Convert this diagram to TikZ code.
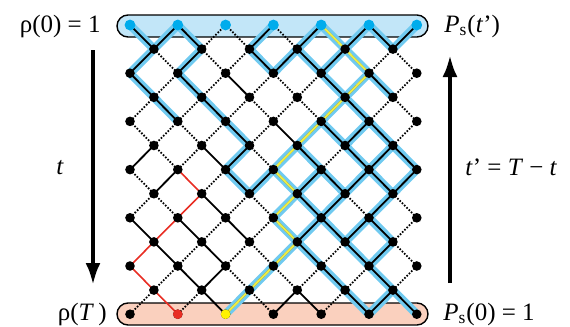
\documentclass[tikz,border=0pt]{standalone}
\usepackage{fontspec}
\setmainfont{Liberation Serif}
\usepackage{xcolor}
\usetikzlibrary{arrows.meta}
\definecolor{boxblue}{RGB}{194,230,248}
\definecolor{boxpeach}{RGB}{250,208,190}
\definecolor{glow}{RGB}{112,202,240}
\definecolor{sitecyan}{RGB}{0,172,236}
\definecolor{pathred}{RGB}{232,45,35}
\definecolor{pathyellow}{RGB}{236,236,70}
\tikzset{
site/.style={circle,fill=black,inner sep=0pt,minimum size=4.8pt},
openbond/.style={line width=0.9pt},
shutbond/.style={line width=0.9pt,dash pattern=on 0.8pt off 0.8pt},
glowbond/.style={line width=4.2pt,glow,line cap=round,line join=round},
redbond/.style={line width=0.8pt,pathred},
yelbond/.style={line width=1.1pt,pathyellow},
timearrow/.style={line width=2pt,-{Latex[length=11pt,width=7.5pt]}},
txt/.style={font=\fontsize{12.5}{15}\selectfont,inner sep=0pt}
}
\begin{document}
\begin{tikzpicture}[x=0.5pt,y=-0.5pt]
\useasboundingbox (0,0) rectangle (570,327);
%lattice points
\foreach \r in {0,...,12}
\foreach \c in {0,...,12}
\coordinate (v-\c-\r) at ({130+23.9*\c},{25+24.1*\r});
%the two boxes
\draw[fill=boxblue,line width=0.7pt,rounded corners=5.5pt](117,15)rectangle(428,37);
\draw[fill=boxpeach,line width=0.7pt,rounded corners=5.5pt](117,303)rectangle(428,325);
%cyan cluster
\foreach \c/\r/\d in {0/0/1,2/0/-1,2/0/1,6/0/-1,8/0/-1,10/0/-1,10/0/1,12/0/-1,
1/1/-1,3/1/-1,5/1/1,7/1/-1,7/1/1,9/1/-1,
0/2/1,2/2/1,8/2/1,10/2/1,
1/3/1,3/3/1,9/3/1,
4/4/1,8/4/1,10/4/-1,10/4/1,
5/5/-1,7/5/1,9/5/1,11/5/-1,11/5/1,
4/6/1,6/6/-1,8/6/-1,8/6/1,10/6/-1,10/6/1,12/6/-1,
7/7/1,9/7/-1,11/7/-1,
8/8/-1,8/8/1,10/8/-1,10/8/1,
7/9/1,9/9/1,11/9/-1,
8/10/1,10/10/1,
9/11/1,11/11/-1,11/11/1}{
\pgfmathtruncatemacro{\cc}{\c+\d}
\pgfmathtruncatemacro{\rr}{\r+1}
\draw[glowbond](v-\c-\r)--(v-\cc-\rr);
\draw[openbond](v-\c-\r)--(v-\cc-\rr);
}
%yellow path
\foreach \c/\r/\d in {8/0/1,9/1/1,10/2/-1,9/3/-1,8/4/-1,7/5/-1,6/6/1,7/7/-1,6/8/1,7/9/-1,6/10/-1,5/11/-1}{
\pgfmathtruncatemacro{\cc}{\c+\d}
\pgfmathtruncatemacro{\rr}{\r+1}
\draw[glowbond](v-\c-\r)--(v-\cc-\rr);
\draw[openbond](v-\c-\r)--(v-\cc-\rr);
\draw[yelbond](v-\c-\r)--(v-\cc-\rr);
}
%other open bonds
\foreach \c/\r/\d in {4/2/1,6/4/1,1/5/-1,3/5/1,2/6/-1,3/7/1,0/8/1,2/8/1,4/8/1,
1/9/1,3/9/1,2/10/1,4/10/-1,3/11/1,7/11/-1,7/11/1}{
\pgfmathtruncatemacro{\cc}{\c+\d}
\pgfmathtruncatemacro{\rr}{\r+1}
\draw[openbond](v-\c-\r)--(v-\cc-\rr);
}
%red path
\foreach \c/\r/\d in {2/6/1,3/7/-1,2/8/-1,1/9/-1,0/10/1,1/11/1}{
\pgfmathtruncatemacro{\cc}{\c+\d}
\pgfmathtruncatemacro{\rr}{\r+1}
\draw[redbond](v-\c-\r)--(v-\cc-\rr);
}
%closed bonds
\foreach \c/\r/\d in {4/0/-1,4/0/1,6/0/1,
1/1/1,3/1/1,5/1/-1,11/1/-1,11/1/1,
2/2/-1,4/2/-1,6/2/-1,6/2/1,8/2/-1,12/2/-1,
1/3/-1,3/3/-1,5/3/-1,5/3/1,7/3/-1,7/3/1,11/3/-1,11/3/1,
0/4/1,2/4/-1,2/4/1,4/4/-1,6/4/-1,12/4/-1,
1/5/1,3/5/-1,5/5/1,9/5/-1,
0/6/1,4/6/-1,
1/7/-1,1/7/1,5/7/-1,5/7/1,9/7/1,11/7/1,
4/8/-1,6/8/-1,12/8/-1,
3/9/-1,5/9/-1,5/9/1,9/9/-1,11/9/1,
2/10/-1,4/10/1,6/10/1,8/10/-1,10/10/-1,12/10/-1,
1/11/-1,3/11/-1,5/11/1,9/11/-1}{
\pgfmathtruncatemacro{\cc}{\c+\d}
\pgfmathtruncatemacro{\rr}{\r+1}
\draw[shutbond](v-\c-\r)--(v-\cc-\rr);
}
%sites
\foreach \c in {0,2,...,12}
\node[site,fill=sitecyan,minimum size=5.4pt](d-\c-0)at(v-\c-0){};
\foreach \r in {1,...,12}
\foreach \c in {0,...,12}{
\pgfmathtruncatemacro{\pty}{mod(\c+\r,2)}
\ifnum\pty=0 \node[site](d-\c-\r)at(v-\c-\r){};\fi
}
\node[site,fill=pathred](redsite)at(v-2-12){};
\node[site,fill=yellow](yelsite)at(v-4-12){};
%time arrows and labels
\coordinate (tdowna) at (93,50);
\coordinate (tdownb) at (93,285);
\coordinate (tupa) at (450,283);
\coordinate (tupb) at (450,55);
\draw[timearrow](tdowna)--(tdownb);
\draw[timearrow](tupa)--(tupb);
\node[txt,anchor=base east](rho0)at(101,32){ρ(0) = 1};
\node[txt,anchor=base east](rhoT)at(107,320){ρ(\textit{T}\,)};
\node[txt](tlab)at(60,168){\textit{t}};
\node[txt,anchor=base west](pst)at(444,32){\textit{P}\textsubscript{s}(\textit{t}’)};
\node[txt,anchor=base west](ps0)at(443,320){\textit{P}\textsubscript{s}(0) = 1};
\node[txt,anchor=base west](tprime)at(465,175){\textit{t}’ = \textit{T} − \textit{t}};
\end{tikzpicture}
\end{document}
